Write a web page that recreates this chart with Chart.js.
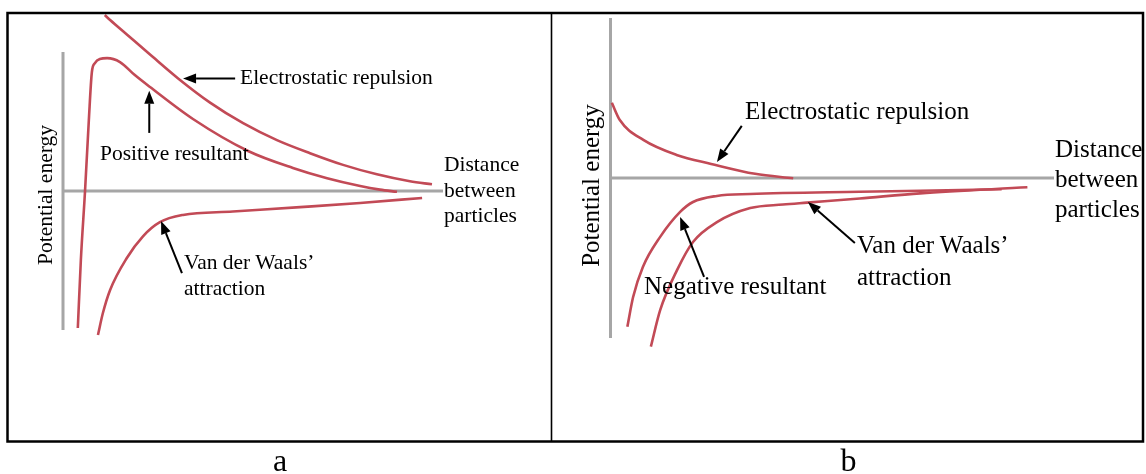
<!DOCTYPE html>
<html>
<head>
<meta charset="utf-8">
<script src="https://cdn.jsdelivr.net/npm/chart.js@4"></script>
<style>
  body { margin: 0; background: #fff; }
  #wrap { position: relative; width: 1146px; height: 474px; background: #fff; }
  canvas { position: absolute; }
  svg { position: absolute; left: 0; top: 0; }
  svg text { font-family: "Liberation Serif", "Times New Roman", serif; fill: #000; }
</style>
</head>
<body>
<div id="wrap">
  <canvas id="chartA" width="541" height="426" style="left:9px;top:14px"></canvas>
  <canvas id="chartB" width="589" height="426" style="left:553px;top:14px"></canvas>
  <svg width="1146" height="474">
    <rect x="7.5" y="13" width="1135.5" height="428.5" fill="none" stroke="#000" stroke-width="2.5"/>
    <line x1="551.5" y1="13" x2="551.5" y2="441" stroke="#000" stroke-width="1.6"/>

    <!-- panel a -->
    <g font-size="21.5">
      <text x="240" y="84">Electrostatic repulsion</text>
      <text x="100" y="159.5">Positive resultant</text>
      <text x="184" y="269">Van der Waals’</text>
      <text x="184" y="295">attraction</text>
      <text x="444" y="171">Distance</text>
      <text x="444" y="197">between</text>
      <text x="444" y="222">particles</text>
      <text transform="translate(51.5,195) rotate(-90)" text-anchor="middle">Potential energy</text>
    </g>
    <!-- panel b -->
    <g font-size="25">
      <text x="745" y="119">Electrostatic repulsion</text>
      <text x="644" y="294">Negative resultant</text>
      <text x="857" y="253">Van der Waals’</text>
      <text x="857" y="285">attraction</text>
      <text x="1055" y="157">Distance</text>
      <text x="1055" y="187">between</text>
      <text x="1055" y="217">particles</text>
      <text transform="translate(599,185.5) rotate(-90)" text-anchor="middle">Potential energy</text>
    </g>
    <text x="280" y="471" font-size="32" text-anchor="middle">a</text>
    <text x="848.5" y="471" font-size="32" text-anchor="middle">b</text>
  </svg>
</div>

<script>
// axes (distance 0..10, energy -5..5)
const axisDist = [0, 10];
const axisEnergy = [5, -5];

// --- panel a: positive resultant ---
const repulsionA_x = [1.10, 1.24, 1.68, 2.29, 3.03, 3.87, 4.74, 5.63, 6.50, 7.37, 8.26, 9.13, 9.71];
const repulsionA_y = [6.33, 6.15, 5.63, 4.91, 4.05, 3.18, 2.44, 1.83, 1.36, 0.94, 0.60, 0.35, 0.24];

const positiveA_x = [0.39, 0.47, 0.58, 0.68, 0.76, 0.84, 0.97, 1.16, 1.50, 1.89, 2.29, 3.42, 4.87, 6.05, 6.95, 7.82, 8.34, 8.79];
const positiveA_y = [-4.93, -2.48, 0, 2.55, 4.28, 4.60, 4.75, 4.78, 4.64, 4.17, 3.74, 2.59, 1.44, 0.83, 0.46, 0.18, 0.05, -0.03];

const vdwA_x = [0.92, 1.05, 1.24, 1.68, 2.11, 2.55, 3.16, 4.47, 6.24, 7.82, 9.45];
const vdwA_y = [-5.18, -4.39, -3.56, -2.41, -1.62, -1.12, -0.86, -0.74, -0.58, -0.43, -0.25];

// --- panel b: negative resultant ---
const repulsionB_x = [0.03, 0.21, 0.74, 1.49, 2.27, 3.26, 4.12];
const repulsionB_y = [2.35, 1.81, 1.19, 0.72, 0.44, 0.13, -0.01];

const negativeB_x = [0.38, 0.51, 0.73, 1.12, 1.57, 1.86, 2.40, 3.15, 5.62, 6.98, 8.82];
const negativeB_y = [-4.65, -3.72, -2.78, -1.84, -1.06, -0.75, -0.56, -0.50, -0.43, -0.40, -0.35];

const vdwB_x = [0.91, 1.12, 1.50, 1.86, 2.40, 3.15, 3.89, 4.43, 5.62, 6.98, 9.40];
const vdwB_y = [-5.27, -4.13, -2.88, -2.00, -1.38, -0.94, -0.83, -0.77, -0.64, -0.48, -0.29];

// annotation arrows, tail -> head, in data units
const arrowsA = [
  { from: [4.53, 4.05], to: [3.16, 4.05] },
  { from: [2.27, 2.09], to: [2.27, 3.61] },
  { from: [3.13, -2.95], to: [2.58, -1.08] }
];
const arrowsB = [
  { from: [2.96, 1.63], to: [2.40, 0.50] },
  { from: [2.11, -3.09], to: [1.57, -1.22] },
  { from: [5.51, -2.03], to: [4.45, -0.75] }
];

const CURVE = '#c24a56';
const AXIS = '#a6a6a6';

function pts(xs, ys) {
  return xs.map((x, i) => ({ x: x, y: ys[i] }));
}

function curve(xs, ys) {
  return {
    data: pts(xs, ys), borderColor: CURVE, borderWidth: 2.6,
    cubicInterpolationMode: 'monotone', pointRadius: 0, order: 0
  };
}

function axes() {
  const a = { borderColor: AXIS, borderWidth: 3, pointRadius: 0, tension: 0, order: 1 };
  return [
    Object.assign({ data: pts(axisDist, [0, 0]) }, a),
    Object.assign({ data: pts([0, 0], axisEnergy) }, a)
  ];
}

// scale limits so that the data origin lands where the picture has it
function frame(canvas, ox, oy, sx, sy) {
  const left = parseFloat(canvas.style.left), top = parseFloat(canvas.style.top);
  return {
    x: { type: 'linear', display: false, min: (left - ox) / sx, max: (left + canvas.width - ox) / sx },
    y: { type: 'linear', display: false, min: (oy - top - canvas.height) / sy, max: (oy - top) / sy }
  };
}

const arrowPlugin = {
  id: 'arrows',
  afterDatasetsDraw(chart, args, opts) {
    const ctx = chart.ctx, xs = chart.scales.x, ys = chart.scales.y;
    ctx.save();
    ctx.strokeStyle = '#000';
    ctx.fillStyle = '#000';
    ctx.lineWidth = 2;
    (opts.list || []).forEach(a => {
      const x1 = xs.getPixelForValue(a.from[0]), y1 = ys.getPixelForValue(a.from[1]);
      const x2 = xs.getPixelForValue(a.to[0]), y2 = ys.getPixelForValue(a.to[1]);
      const ang = Math.atan2(y2 - y1, x2 - x1);
      const len = 13, half = 5;
      const bx = x2 - len * Math.cos(ang), by = y2 - len * Math.sin(ang);
      ctx.beginPath();
      ctx.moveTo(x1, y1);
      ctx.lineTo(bx, by);
      ctx.stroke();
      ctx.beginPath();
      ctx.moveTo(x2, y2);
      ctx.lineTo(bx + half * Math.sin(ang), by - half * Math.cos(ang));
      ctx.lineTo(bx - half * Math.sin(ang), by + half * Math.cos(ang));
      ctx.closePath();
      ctx.fill();
    });
    ctx.restore();
  }
};

function makeChart(id, datasets, arrows, ox, oy, sx, sy) {
  const canvas = document.getElementById(id);
  return new Chart(canvas, {
    type: 'scatter',
    data: { datasets: datasets.map(d => Object.assign({ showLine: true, fill: false }, d)) },
    options: {
      responsive: false, animation: false, devicePixelRatio: 1,
      layout: { padding: 0 },
      scales: frame(canvas, ox, oy, sx, sy),
      plugins: { legend: { display: false }, tooltip: { enabled: false }, arrows: { list: arrows } },
      events: []
    },
    plugins: [arrowPlugin]
  });
}

makeChart('chartA', [
  curve(repulsionA_x, repulsionA_y),
  curve(positiveA_x, positiveA_y),
  curve(vdwA_x, vdwA_y)
].concat(axes()), arrowsA, 63, 191, 38, 27.8);

makeChart('chartB', [
  curve(repulsionB_x, repulsionB_y),
  curve(negativeB_x, negativeB_y),
  curve(vdwB_x, vdwB_y)
].concat(axes()), arrowsB, 610.5, 178, 44.35, 32);
</script>
</body>
</html>
